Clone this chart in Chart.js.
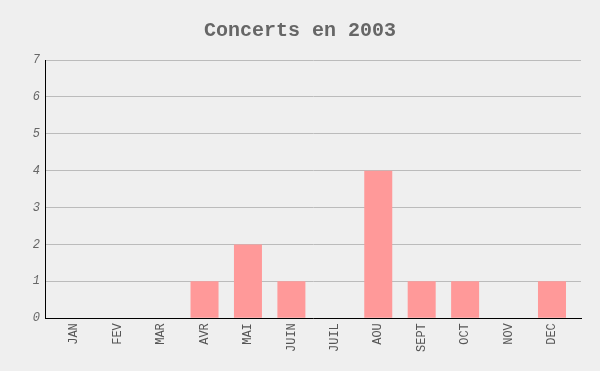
<!DOCTYPE html>
<html>
<head>
<meta charset="utf-8">
<script src="https://cdn.jsdelivr.net/npm/chart.js@4"></script>
<style>
    html, body { margin: 0; padding: 0; background: #efefef; }
    #wrap { width: 600px; height: 371px; }
</style>
</head>
<body>
<div id="wrap"><canvas id="concerts"></canvas></div>
<script>
const months = ['JAN', 'FEV', 'MAR', 'AVR', 'MAI', 'JUIN', 'JUIL', 'AOU', 'SEPT', 'OCT', 'NOV', 'DEC'];
const concerts = [0, 0, 0, 1, 2, 1, 0, 4, 1, 1, 0, 1];
const yTicks = [0, 1, 2, 3, 4, 5, 6, 7];

const points = months.map(function (m, i) {
    return { x: i, y: concerts[i] };
});

const myChart = new Chart(document.querySelector('#concerts'), {
    type: 'bar',
    data: {
        datasets: [{
            label: 'Concerts',
            data: points,
            backgroundColor: '#ff9999',
            barThickness: 28,
            inflateAmount: 0
        }]
    },
    options: {
        responsive: true,
        maintainAspectRatio: false,
        animation: false,
        layout: {
            padding: { left: 19, right: 19, top: 0, bottom: 14 }
        },
        scales: {
            x: {
                type: 'linear',
                offset: false,
                min: -0.673,
                max: 11.668,
                afterBuildTicks: function (scale) {
                    scale.ticks = months.map(function (m, i) { return { value: i }; });
                },
                grid: { display: false, drawTicks: false },
                border: { color: '#000', width: 1 },
                ticks: {
                    autoSkip: false,
                    minRotation: 90,
                    maxRotation: 90,
                    padding: 5,
                    color: '#555',
                    font: { family: 'Liberation Mono', size: 12 },
                    callback: function (val) {
                        return months[val];
                    }
                }
            },
            y: {
                min: yTicks[0],
                max: yTicks[yTicks.length - 1],
                afterFit: function (scale) {
                    scale.width = 26;
                },
                grid: { color: '#bbb', drawTicks: false },
                border: { color: '#000', width: 1 },
                ticks: {
                    stepSize: 1,
                    padding: 5,
                    color: '#666',
                    font: { family: 'Liberation Mono', size: 12, style: 'italic' }
                }
            }
        },
        plugins: {
            legend: { display: false },
            tooltip: { enabled: false },
            title: {
                display: true,
                text: 'Concerts en 2003',
                color: '#666',
                font: { family: 'Liberation Mono', size: 20, weight: 'bold' },
                padding: { top: 19, bottom: 17 }
            }
        }
    }
});
</script>
</body>
</html>
